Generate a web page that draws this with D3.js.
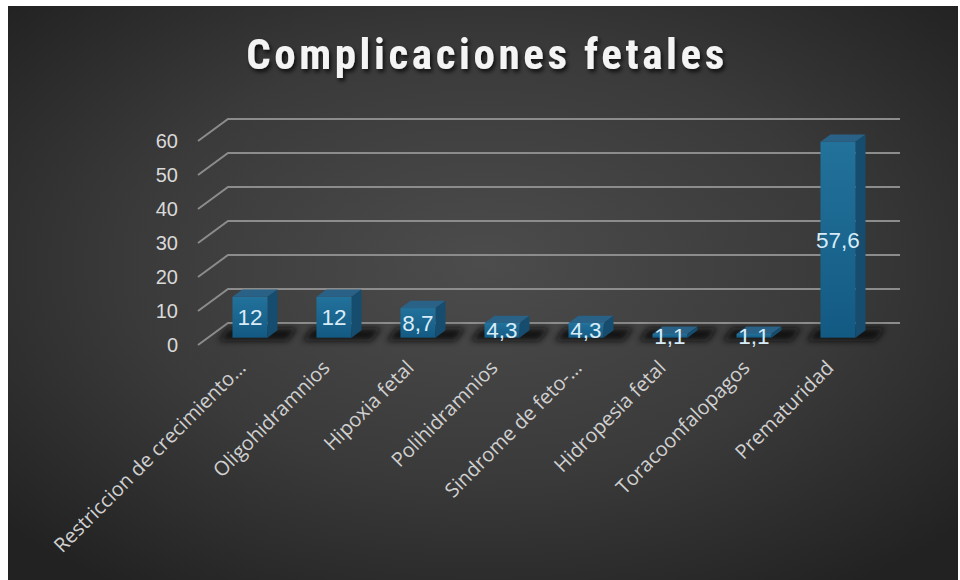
<!DOCTYPE html>
<html>
<head>
<meta charset="utf-8">
<script src="https://cdn.jsdelivr.net/npm/d3@7"></script>
<style>
  html, body { margin: 0; padding: 0; background: #ffffff; }
  svg { display: block; }
</style>
</head>
<body>
<svg id="chart" width="960" height="580"></svg>
<script>
// Chart data
const title = "Complicaciones fetales";
const categories = [
  "Restriccion de crecimiento…",
  "Oligohidramnios",
  "Hipoxia fetal",
  "Polihidramnios",
  "Sindrome de feto-…",
  "Hidropesia fetal",
  "Toracoonfalopagos",
  "Prematuridad"
];
const values = [12, 12, 8.7, 4.3, 4.3, 1.1, 1.1, 57.6];
const yTicks = [0, 10, 20, 30, 40, 50, 60];

const fmt = v => String(v).replace(".", ",");

const svg = d3.select("#chart");
const W = 960, H = 580;

// Background panel with soft radial lighting
const defs = svg.append("defs");
const bg = defs.append("radialGradient").attr("id", "bgGrad")
  .attr("cx", "50%").attr("cy", "45%").attr("r", "68%");
bg.append("stop").attr("offset", "0%").attr("stop-color", "#4c4c4c");
bg.append("stop").attr("offset", "55%").attr("stop-color", "#3a3a3a");
bg.append("stop").attr("offset", "100%").attr("stop-color", "#222222");

const front = defs.append("linearGradient").attr("id", "frontGrad")
  .attr("x1", 0).attr("y1", 0).attr("x2", 0).attr("y2", 1);
front.append("stop").attr("offset", "0%").attr("stop-color", "#22729c");
front.append("stop").attr("offset", "100%").attr("stop-color", "#135a83");

const shadowBlur = defs.append("filter").attr("id", "floorShadow")
  .attr("x", "-50%").attr("y", "-100%").attr("width", "200%").attr("height", "300%");
shadowBlur.append("feGaussianBlur").attr("stdDeviation", 3);

const titleShadow = defs.append("filter").attr("id", "titleShadow")
  .attr("x", "-10%").attr("y", "-30%").attr("width", "120%").attr("height", "160%");
titleShadow.append("feDropShadow").attr("dx", 2).attr("dy", 3)
  .attr("stdDeviation", 2).attr("flood-color", "#000").attr("flood-opacity", 0.75);

svg.append("rect").attr("x", 8).attr("y", 6).attr("width", 950).attr("height", H - 6)
  .attr("fill", "url(#bgGrad)");

// Title
svg.append("text")
  .attr("x", 487).attr("y", 69)
  .attr("text-anchor", "middle")
  .attr("font-family", "'Liberation Sans Narrow', 'Roboto Condensed', 'DejaVu Sans Condensed', sans-serif")
  .attr("font-weight", "bold")
  .attr("font-size", 43)
  .attr("letter-spacing", 3.6)
  .attr("fill", "#f4f4f4")
  .attr("filter", "url(#titleShadow)")
  .text(title);

// Scales: front plane of the floor, with a fixed depth offset for the back wall
const depthX = 30, depthY = -22;
const x = d3.scaleBand().domain(categories).range([198, 870])
  .paddingInner(0.583).paddingOuter(0.2915);
const y = d3.scaleLinear().domain([0, 60]).range([345, 141]);

// Gridlines: diagonal on the side wall, horizontal on the back wall
const grid = svg.append("g").attr("stroke", "#8c8c8c").attr("stroke-width", 2)
  .attr("fill", "none");
grid.selectAll("path").data(yTicks).join("path")
  .attr("d", t => {
    const x0 = x.range()[0], x1 = x.range()[1];
    return `M${x0},${y(t)} L${x0 + depthX},${y(t) + depthY} L${x1 + depthX},${y(t) + depthY}`;
  });

// Value axis (labels only)
const axis = svg.append("g").attr("transform", "translate(185,0)")
  .call(d3.axisLeft(y).tickValues(yTicks).tickSize(0).tickPadding(7).tickFormat(d3.format("d")));
axis.select(".domain").remove();
axis.selectAll("text")
  .attr("font-family", "'Liberation Sans', Arial, sans-serif")
  .attr("font-size", 20)
  .attr("fill", "#d9d9d9");

// Bars occupy the middle third of the floor depth
const d1 = 1 / 3, d2 = 2 / 3;
const ox1 = depthX * d1, oy1 = depthY * d1;
const ox2 = depthX * d2, oy2 = depthY * d2;
const bw = x.bandwidth();

const data = categories.map((c, i) => ({ c, v: values[i] }));

// Floor shadows cast by each bar
svg.append("g").selectAll("path").data(data).join("path")
  .attr("filter", "url(#floorShadow)")
  .attr("fill", "#0b0b0b")
  .attr("opacity", 0.9)
  .attr("d", d => {
    const xl = x(d.c) + ox1 - 14, xr = x(d.c) + bw + ox2 + 20;
    const yb = y(0) + oy1 + 3, yt = y(0) + oy2 - 2;
    return `M${xl},${yb} L${xr - 10},${yb} L${xr},${yt} L${xl + 10},${yt} Z`;
  });

const bars = svg.append("g").selectAll("g").data(data).join("g");

// Top face
bars.append("path")
  .attr("fill", "#2a6287")
  .attr("d", d => {
    const xl = x(d.c), xr = x(d.c) + bw, yt = y(d.v);
    return `M${xl + ox1},${yt + oy1} L${xr + ox1},${yt + oy1} L${xr + ox2},${yt + oy2} L${xl + ox2},${yt + oy2} Z`;
  });

// Side face
bars.append("path")
  .attr("fill", "#164c6e")
  .attr("d", d => {
    const xr = x(d.c) + bw, yt = y(d.v), yb = y(0);
    return `M${xr + ox1},${yt + oy1} L${xr + ox2},${yt + oy2} L${xr + ox2},${yb + oy2} L${xr + ox1},${yb + oy1} Z`;
  });

// Front face
bars.append("rect")
  .attr("x", d => x(d.c) + ox1)
  .attr("y", d => y(d.v) + oy1)
  .attr("width", bw)
  .attr("height", d => y(0) - y(d.v))
  .attr("fill", "url(#frontGrad)");

// Value labels centred on the front face
bars.append("text")
  .attr("x", d => x(d.c) + ox1 + bw / 2)
  .attr("y", d => (y(d.v) + y(0)) / 2 + oy1)
  .attr("dy", "0.36em")
  .attr("text-anchor", "middle")
  .attr("font-family", "'Liberation Sans', Arial, sans-serif")
  .attr("font-size", 22.5)
  .attr("fill", "#d8ecf8")
  .text(d => fmt(d.v));

// Category labels, rotated
svg.append("g").selectAll("text").data(categories).join("text")
  .attr("transform", c => `translate(${x(c) + bw / 2 + 7},${369}) rotate(-45)`)
  .attr("text-anchor", "end")
  .attr("font-family", "'Open Sans', 'Noto Sans', sans-serif")
  .attr("font-size", 20)
  .attr("fill", "#d0d0d0")
  .text(c => c);
</script>
</body>
</html>
